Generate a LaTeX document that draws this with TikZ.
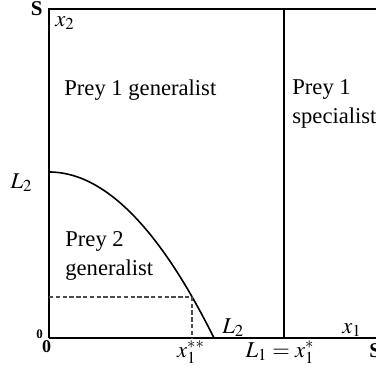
\documentclass[tikz,border=0pt]{standalone}
\usepackage{mathptmx}
\usepackage[no-math]{fontspec}
\setmainfont{Liberation Serif}
\usetikzlibrary{positioning}

\begin{document}
\begin{tikzpicture}[
  x=0.5pt, y=0.5pt,
  font=\fontsize{11.3}{14.5}\selectfont,
  axis/.style={line width=0.9pt},
  guide/.style={line width=0.55pt, draw=black!70, dash pattern=on 2.2pt off 1.2pt},
  lbl/.style={inner sep=0pt, anchor=base west},
  region/.style={lbl, align=left},
  corner/.style={inner sep=0pt, anchor=base, font=\fontsize{10.5}{12}\selectfont\bfseries}
]
  \useasboundingbox (0,0) rectangle (376,372);
  \clip (0,0) rectangle (376,372);

  \coordinate (O) at (49,34);
  \coordinate (top) at (49,363);
  \coordinate (far) at (420,363);
  \coordinate (Lone) at (284,34);
  \coordinate (Lonetop) at (284,363);
  \coordinate (ctop) at (49,200);
  \coordinate (cbot) at (214,34);
  \coordinate (dcorner) at (192,75);

  % state space box
  \draw[axis] (O) -- (top) -- (far);
  \draw[axis] (O) -- (far |- O);
  \draw[axis] (Lone) -- (Lonetop);

  % prey 2 boundary
  \draw[line width=0.8pt] (ctop) plot[domain=0:165, samples=60]
    ({49+\x}, {34+166*(1-(\x/165)^2)});
  \draw[guide] (O |- dcorner) -- (dcorner) -- (dcorner |- O);

  % region labels (base = last line)
  \node[lbl] (gen1) at (64,277) {Prey 1 generalist};
  \node[region] (spec1) at (292,249) {Prey 1\\specialist};
  \node[region] (gen2) at (65,97) {Prey 2\\generalist};

  % axis labels
  \node[corner, anchor=base east] (Stop) at (43,357) {S};
  \node[lbl] (xtwo) at (55,346) {$x_2$};
  \node[inner sep=0pt, anchor=base east] (Ltwoy) at (33,184) {$L_2$};
  \node[lbl] (Ltwox) at (222,39) {$L_2$};
  \node[lbl] (xone) at (342,39) {$x_1$};
  \node[corner, font=\fontsize{6.5}{7}\selectfont\bfseries] (zeroy) at (39.5,34) {0};
  \node[corner, font=\fontsize{9}{10}\selectfont\bfseries] (zerox) at (46.5,20) {0};
  \node[inner sep=0pt, anchor=base] (xss) at (191,15) {$x_1^{**}$};
  \node[inner sep=0pt, anchor=base] (Lonelbl) at (280,15) {$L_1 = x_1^{*}$};
  \node[corner, anchor=base west] (Sright) at (369,15) {S};
\end{tikzpicture}
\end{document}
